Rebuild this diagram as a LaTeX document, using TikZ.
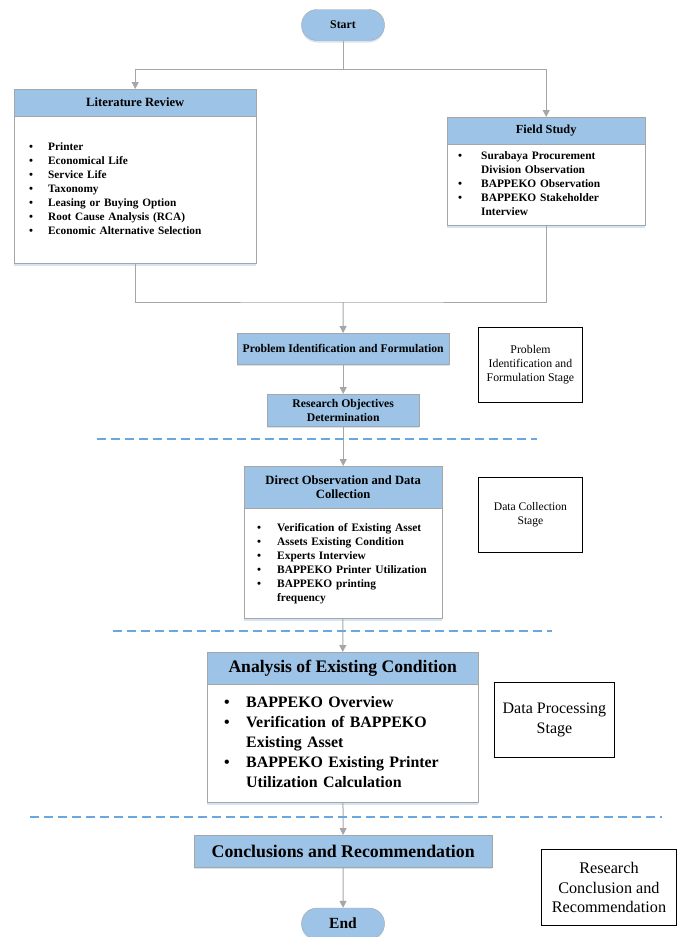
\documentclass[tikz,border=0pt]{standalone}
\usepackage{fontspec}
\setmainfont{Liberation Serif}
\usetikzlibrary{positioning,arrows.meta,shapes.misc,shadows}
\definecolor{hdrblue}{HTML}{9DC3E6}
\definecolor{edgegray}{HTML}{A6A6A6}
\definecolor{stagedash}{HTML}{6AA6E0}
\newcommand{\blist}[2]{\begin{tabular}{@{}p{#1}@{}l@{}}#2\end{tabular}}

\begin{document}
\begin{tikzpicture}[
  x=1pt, y=-1pt,
  node distance=0pt,
  soft/.style={drop shadow={shadow xshift=0pt, shadow yshift=-2pt, fill=hdrblue!45, opacity=1}},
  term/.style={rounded rectangle, draw=edgegray, fill=hdrblue, minimum width=83pt, minimum height=31pt, inner sep=0pt, soft},
  hdr/.style={draw=edgegray, fill=hdrblue, align=center, inner sep=0pt, soft},
  body/.style={draw=edgegray, fill=white, align=left, inner ysep=0pt, soft},
  stage/.style={draw=black, line width=0.9pt, align=center, inner sep=0pt, anchor=north west},
  arr/.style={draw=edgegray, line width=1pt, -{Triangle[length=7pt,width=7pt]}},
  link/.style={draw=edgegray, line width=1pt},
  stageline/.style={color=stagedash, line width=1.2pt, dash pattern=on 9pt off 5pt}
]
\useasboundingbox (0,0) rectangle (678,937);

% start and the two study boxes
\node[term, font=\bfseries\fontsize{11.8}{13}\selectfont] (start) at (343,25) {Start};
\node[hdr, anchor=north west, minimum width=242pt, minimum height=27pt, font=\bfseries\fontsize{12.6}{14}\selectfont] (lit) at (14,89) {Literature Review};
\node[body, below=of lit, minimum width=242pt, minimum height=147pt, text width=212pt, inner xsep=15pt, font=\bfseries\fontsize{11.3}{14}\selectfont] (litbody) {\blist{19pt}{%
  \textbullet & Printer\\
  \textbullet & Economical Life\\
  \textbullet & Service Life\\
  \textbullet & Taxonomy\\
  \textbullet & Leasing or Buying Option\\
  \textbullet & Root Cause Analysis (RCA)\\
  \textbullet & Economic Alternative Selection}};
\node[hdr, anchor=north west, minimum width=198pt, minimum height=27pt, font=\bfseries\fontsize{12.3}{14}\selectfont] (field) at (447,117) {Field Study};
\node[body, below=of field, minimum width=198pt, minimum height=81pt, text width=176pt, inner xsep=11pt, font=\bfseries\fontsize{11.4}{14}\selectfont] (fieldbody) {\blist{23pt}{%
  \textbullet & Surabaya Procurement\\
  & Division Observation\\
  \textbullet & BAPPEKO Observation\\
  \textbullet & BAPPEKO Stakeholder\\
  & Interview}};

% problem stage
\node[hdr, anchor=north west, minimum width=212pt, minimum height=31pt, font=\bfseries\fontsize{11.7}{13}\selectfont] (prob) at (237,333) {Problem Identification and Formulation};
\node[hdr, anchor=north west, minimum width=152pt, minimum height=32pt, font=\bfseries\fontsize{11.7}{14}\selectfont] (obj) at (267,394) {Research Objectives\\Determination};

% data collection
\node[hdr, anchor=north west, minimum width=198pt, minimum height=42pt, font=\bfseries\fontsize{12.6}{14}\selectfont] (direct) at (244,466) {Direct Observation and Data\\Collection};
\node[body, below=of direct, minimum width=198pt, minimum height=110pt, text width=172pt, inner xsep=13pt, font=\bfseries\fontsize{11.4}{14}\selectfont] (directbody) {\blist{20pt}{%
  \textbullet & Verification of Existing Asset\\
  \textbullet & Assets Existing Condition\\
  \textbullet & Experts Interview\\
  \textbullet & BAPPEKO Printer Utilization\\
  \textbullet & BAPPEKO printing\\
  & frequency}};

% data processing
\node[hdr, anchor=north west, minimum width=271pt, minimum height=32pt, font=\bfseries\fontsize{17.6}{19}\selectfont] (analysis) at (207,652) {Analysis of Existing Condition};
\node[body, below=of analysis, minimum width=271pt, minimum height=118pt, text width=237pt, inner xsep=17pt, font=\bfseries\fontsize{15.9}{20}\selectfont] (analysisbody) {\blist{22pt}{%
  \textbullet & BAPPEKO Overview\\
  \textbullet & Verification of BAPPEKO\\
  & Existing Asset\\
  \textbullet & BAPPEKO Existing Printer\\
  & Utilization Calculation}};

% conclusion
\node[hdr, anchor=north west, minimum width=298pt, minimum height=32pt, font=\bfseries\fontsize{17.8}{19}\selectfont] (concl) at (194,835) {Conclusions and Recommendation};
\node[term, font=\bfseries\fontsize{15.5}{17}\selectfont] (end) at (343,923.5) {End};

% stage labels
\node[stage, minimum width=104pt, minimum height=75pt, font=\fontsize{11.8}{14}\selectfont] (stprob) at (478,327) {Problem\\Identification and\\Formulation Stage};
\node[stage, minimum width=104pt, minimum height=75pt, font=\fontsize{11.6}{14}\selectfont] (stcoll) at (478,477) {Data Collection\\Stage};
\node[stage, minimum width=120pt, minimum height=75pt, font=\fontsize{16}{20}\selectfont] (stproc) at (494,682) {Data Processing\\Stage};
\node[stage, minimum width=135pt, minimum height=76pt, font=\fontsize{16.2}{19.5}\selectfont] (stconc) at (541,849) {Research\\Conclusion and\\Recommendation};

% connectors
\coordinate (split) at (343,69);
\coordinate (join) at (343,302);
\draw[link] (start) -- (split);
\draw[arr] (split) -| (lit.north);
\draw[arr] (split) -| (field.north);
\draw[link] (litbody.south) |- (join) -| (fieldbody.south);
\draw[arr] (join) -- (prob);
\draw[arr] (prob) -- (obj);
\draw[arr] (obj) -- (direct);
\draw[arr] (directbody) -- (analysis);
\draw[arr] (analysisbody) -- (concl);
\draw[arr] (concl) -- (end);

% stage separators
\draw[stageline] (97,439) -- (537,439);
\draw[stageline] (113,631) -- (552,631);
\draw[stageline] (30,817) -- (662,817);
\end{tikzpicture}
\end{document}
